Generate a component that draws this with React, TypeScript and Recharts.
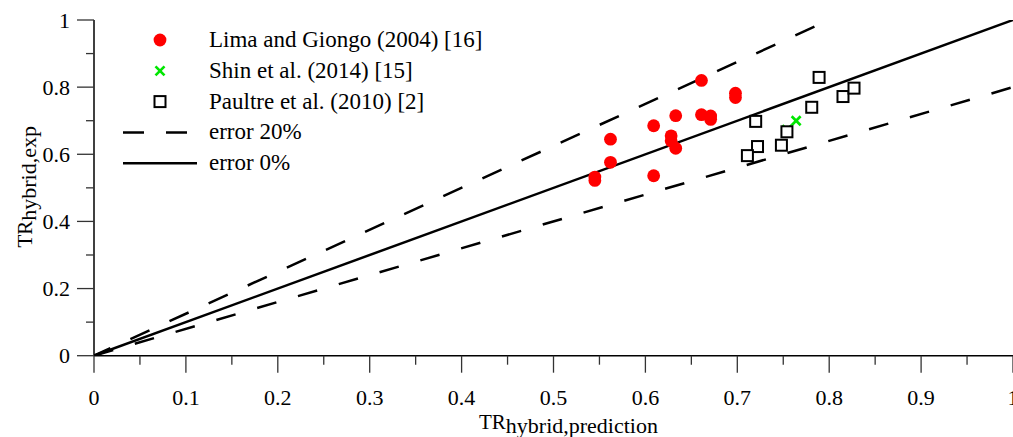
import React from "react";
import { ScatterChart, Scatter, XAxis, YAxis, Legend, Label } from "recharts";

const FONT = "'Liberation Serif', 'Times New Roman', Times, serif";

// Lima and Giongo (2004) [16]
const limaGiongo = [
  { x: 0.545, y: 0.532 },
  { x: 0.545, y: 0.522 },
  { x: 0.562, y: 0.645 },
  { x: 0.562, y: 0.576 },
  { x: 0.609, y: 0.685 },
  { x: 0.609, y: 0.536 },
  { x: 0.628, y: 0.655 },
  { x: 0.628, y: 0.64 },
  { x: 0.633, y: 0.618 },
  { x: 0.633, y: 0.715 },
  { x: 0.661, y: 0.82 },
  { x: 0.661, y: 0.718 },
  { x: 0.671, y: 0.714 },
  { x: 0.671, y: 0.704 },
  { x: 0.698, y: 0.782 },
  { x: 0.698, y: 0.769 },
];

// Shin et al. (2014) [15]
const shin = [
  { x: 0.764, y: 0.7 },
  { x: 0.754, y: 0.673 },
];

// Paultre et al. (2010) [2]
const paultre = [
  { x: 0.72, y: 0.698 },
  { x: 0.789, y: 0.829 },
  { x: 0.781, y: 0.74 },
  { x: 0.815, y: 0.772 },
  { x: 0.827, y: 0.797 },
  { x: 0.754, y: 0.667 },
  { x: 0.748, y: 0.627 },
  { x: 0.722, y: 0.623 },
  { x: 0.711, y: 0.596 },
];

// error lines
const upperBand = [
  { x: 0, y: 0 },
  { x: 0.784, y: 0.98 },
];
const lowerBand = [
  { x: 0, y: 0 },
  { x: 1, y: 0.8 },
];
const exactLine = [
  { x: 0, y: 0 },
  { x: 1, y: 1 },
];

const xMajorTicks = [0, 0.1, 0.2, 0.3, 0.4, 0.5, 0.6, 0.7, 0.8, 0.9, 1];
const xMinorTicks = [0.05, 0.15, 0.25, 0.35, 0.45, 0.55, 0.65, 0.75, 0.85, 0.95];
const yMajorTicks = [0, 0.2, 0.4, 0.6, 0.8, 1];
const yMinorTicks = [0.1, 0.3, 0.5, 0.7, 0.9];

const legendItems = [
  { label: "Lima and Giongo (2004) [16]", kind: "dot" },
  { label: "Shin et al. (2014) [15]", kind: "cross" },
  { label: "Paultre et al. (2010) [2]", kind: "square" },
  { label: "error 20%", kind: "dash" },
  { label: "error 0%", kind: "solid" },
];

const RED = "#ff0000";
const GREEN = "#00e600";

const Dot = (p: any) => <circle cx={p.cx} cy={p.cy} r={6.4} fill={RED} />;

const Cross = (p: any) => (
  <g stroke={GREEN} strokeWidth={2.6}>
    <line x1={p.cx - 4.5} y1={p.cy - 4.5} x2={p.cx + 4.5} y2={p.cy + 4.5} />
    <line x1={p.cx - 4.5} y1={p.cy + 4.5} x2={p.cx + 4.5} y2={p.cy - 4.5} />
  </g>
);

const Square = (p: any) => (
  <rect
    x={p.cx - 5.5}
    y={p.cy - 5.5}
    width={11}
    height={11}
    fill="#fff"
    stroke="#000"
    strokeWidth={2}
  />
);

const NoShape = () => <g />;

const fmt = (v: number) => String(v);

const XTick = (props: any) => {
  const { x, y, payload } = props;
  const major = xMajorTicks.includes(payload.value);
  return (
    <g>
      <line x1={x} x2={x} y1={y} y2={y + (major ? 17 : 9)} stroke="#333" strokeWidth={1.3} />
      {major && (
        <text x={x} y={y + 49} textAnchor="middle" fontSize={22} fontFamily={FONT} fill="#000">
          {fmt(payload.value)}
        </text>
      )}
    </g>
  );
};

const YTick = (props: any) => {
  const { x, y, payload } = props;
  const major = yMajorTicks.includes(payload.value);
  return (
    <g>
      <line x1={x} x2={x - (major ? 17 : 8)} y1={y} y2={y} stroke="#333" strokeWidth={1.3} />
      {major && (
        <text x={x - 24} y={y + 7.5} textAnchor="end" fontSize={22} fontFamily={FONT} fill="#000">
          {fmt(payload.value)}
        </text>
      )}
    </g>
  );
};

const XTitle = (props: any) => {
  const vb = props.viewBox || { x: 94, y: 356, width: 919 };
  const cx = vb.x + vb.width / 2 + 15;
  return (
    <text x={cx} y={vb.y + 73} textAnchor="middle" fontFamily={FONT} fontSize={21} fill="#000">
      TR
      <tspan fontSize={22} dy={4}>
        hybrid,prediction
      </tspan>
    </text>
  );
};

const YTitle = (props: any) => {
  const vb = props.viewBox || { x: 0, y: 20, height: 336 };
  const cx = 32;
  const cy = vb.y + vb.height / 2 - 1;
  return (
    <text
      x={cx}
      y={cy}
      transform={`rotate(-90, ${cx}, ${cy})`}
      textAnchor="middle"
      fontFamily={FONT}
      fontSize={21}
      fill="#000"
    >
      TR
      <tspan fontSize={22} dy={4}>
        hybrid,exp
      </tspan>
    </text>
  );
};

const renderLegend = () => (
  <svg width={420} height={160} style={{ display: "block" }}>
    {legendItems.map((item, i) => {
      const y = 20 + i * 30.8;
      let mark = null;
      if (item.kind === "dot") mark = <Dot cx={50} cy={y} />;
      if (item.kind === "cross") mark = <Cross cx={50} cy={y} />;
      if (item.kind === "square") mark = <Square cx={50} cy={y} />;
      if (item.kind === "dash")
        mark = <line x1={13} x2={78} y1={y} y2={y} stroke="#000" strokeWidth={2.5} strokeDasharray="21 22" />;
      if (item.kind === "solid")
        mark = <line x1={13} x2={87} y1={y} y2={y} stroke="#000" strokeWidth={2.5} />;
      return (
        <g key={item.label}>
          {mark}
          <text x={99} y={y + 7} fontFamily={FONT} fontSize={23} fill="#000">
            {item.label}
          </text>
        </g>
      );
    })}
  </svg>
);

export default function App() {
  const xTicks = [...xMajorTicks, ...xMinorTicks].sort((a, b) => a - b);
  const yTicks = [...yMajorTicks, ...yMinorTicks].sort((a, b) => a - b);
  return (
    <div style={{ position: "absolute", left: 0, top: 0, background: "#fff" }}>
      <ScatterChart width={1013} height={437} margin={{ top: 20, right: 0, bottom: 0, left: 0 }}>
        <XAxis
          type="number"
          dataKey="x"
          domain={[0, 1]}
          ticks={xTicks}
          interval={0}
          height={81.3}
          tickSize={0}
          tickMargin={0}
          tickLine={false}
          tick={<XTick />}
          axisLine={{ stroke: "#000", strokeWidth: 1.5 }}
          allowDataOverflow
        >
          <Label content={<XTitle />} />
        </XAxis>
        <YAxis
          type="number"
          dataKey="y"
          domain={[0, 1]}
          ticks={yTicks}
          interval={0}
          width={94}
          tickSize={0}
          tickMargin={0}
          tickLine={false}
          tick={<YTick />}
          axisLine={{ stroke: "#000", strokeWidth: 1.5 }}
          allowDataOverflow
        >
          <Label content={<YTitle />} />
        </YAxis>
        <Legend
          content={renderLegend}
          layout="vertical"
          align="center"
          verticalAlign="middle"
          wrapperStyle={{ left: 110, top: 20, width: 420, height: 160 }}
        />
        <Scatter
          name="error 20% upper"
          data={upperBand}
          line={{ stroke: "#000", strokeWidth: 2.5, strokeDasharray: "21 22", strokeDashoffset: 3 }}
          shape={NoShape}
          legendType="none"
          isAnimationActive={false}
        />
        <Scatter
          name="error 20% lower"
          data={lowerBand}
          line={{ stroke: "#000", strokeWidth: 2.5, strokeDasharray: "20 22.5" }}
          shape={NoShape}
          legendType="none"
          isAnimationActive={false}
        />
        <Scatter
          name="error 0%"
          data={exactLine}
          line={{ stroke: "#000", strokeWidth: 2.5 }}
          shape={NoShape}
          legendType="none"
          isAnimationActive={false}
        />
        <Scatter name="Lima and Giongo (2004) [16]" data={limaGiongo} shape={Dot} isAnimationActive={false} />
        <Scatter name="Shin et al. (2014) [15]" data={shin} shape={Cross} isAnimationActive={false} />
        <Scatter name="Paultre et al. (2010) [2]" data={paultre} shape={Square} isAnimationActive={false} />
      </ScatterChart>
    </div>
  );
}
